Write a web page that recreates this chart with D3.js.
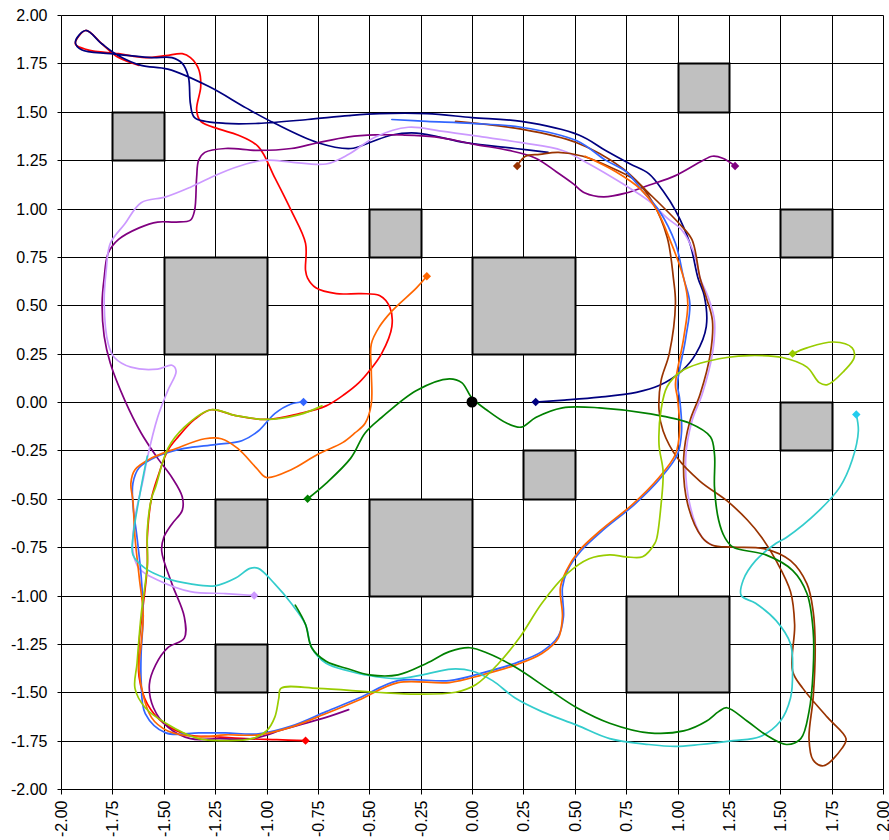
<!DOCTYPE html>
<html><head><meta charset="utf-8">
<script src="https://cdn.jsdelivr.net/npm/d3@7/dist/d3.min.js"></script>
<style>
body{margin:0;background:#fff;}
svg{display:block;}
text{font-family:"Liberation Sans",Arial,sans-serif;fill:#000;}
</style>
</head><body>
<svg id="c" width="889" height="840"></svg>
<script>
const tickValues = [-2,-1.75,-1.5,-1.25,-1,-0.75,-0.5,-0.25,0,0.25,0.5,0.75,1,1.25,1.5,1.75,2];
const tickLabels = ["-2.00","-1.75","-1.50","-1.25","-1.00","-0.75","-0.50","-0.25","0.00","0.25","0.50","0.75","1.00","1.25","1.50","1.75","2.00"];

// obstacles: [x0, y0, x1, y1]
const obstacles = [
  [-1.75,1.25,-1.5,1.5],[1.0,1.5,1.25,1.75],[-0.5,0.75,-0.25,1.0],[1.5,0.75,1.75,1.0],
  [-1.5,0.25,-1.0,0.75],[0,0.25,0.5,0.75],[1.5,-0.25,1.75,0],[0.25,-0.5,0.5,-0.25],
  [-1.25,-0.75,-1.0,-0.5],[-0.5,-1.0,0,-0.5],[0.75,-1.5,1.25,-1.0],[-1.25,-1.5,-1.0,-1.25]
];

const goal = [0, 0];

const navyPath = [[0.31,0.00],[0.45,0.01],[0.62,0.025],[0.80,0.05],[0.91,0.085],[1.02,0.16],[1.09,0.25],[1.14,0.39],[1.13,0.55],[1.10,0.64],[1.06,0.82],[0.99,0.99],[0.93,1.09],[0.86,1.18],[0.77,1.23],[0.65,1.30],[0.52,1.38],[0.24,1.45],[0.0,1.47],[-0.22,1.49],[-0.45,1.49],[-0.60,1.48],[-0.80,1.46],[-1.04,1.44],[-1.20,1.44],[-1.35,1.47],[-1.37,1.54],[-1.38,1.68],[-1.41,1.75],[-1.46,1.78],[-1.56,1.78],[-1.76,1.80],[-1.90,1.82],[-1.93,1.86],[-1.88,1.92],[-1.80,1.85],[-1.72,1.79],[-1.61,1.74],[-1.48,1.72],[-1.28,1.63],[-1.10,1.52],[-0.96,1.44],[-0.75,1.34],[-0.59,1.31],[-0.50,1.34],[-0.39,1.38],[-0.27,1.39],[-0.03,1.34],[0.21,1.31],[0.37,1.29]];

const redPath = [[-0.81,-1.75],[-0.95,-1.745],[-1.1,-1.74],[-1.25,-1.73],[-1.38,-1.72],[-1.50,-1.66],[-1.58,-1.56],[-1.62,-1.42],[-1.62,-1.25],[-1.60,-1.05],[-1.58,-0.85],[-1.58,-0.70],[-1.56,-0.50],[-1.53,-0.39],[-1.48,-0.25],[-1.43,-0.18],[-1.35,-0.09],[-1.27,-0.04],[-1.15,-0.07],[-1.0,-0.09],[-0.84,-0.06],[-0.71,-0.02],[-0.62,0.04],[-0.55,0.10],[-0.5,0.16],[-0.44,0.25],[-0.39,0.39],[-0.40,0.49],[-0.45,0.55],[-0.54,0.56],[-0.66,0.56],[-0.76,0.59],[-0.80,0.64],[-0.81,0.68],[-0.81,0.82],[-0.88,0.99],[-0.96,1.16],[-1.04,1.32],[-1.14,1.38],[-1.23,1.41],[-1.32,1.45],[-1.34,1.51],[-1.32,1.63],[-1.33,1.72],[-1.37,1.78],[-1.41,1.80],[-1.49,1.79],[-1.59,1.78],[-1.72,1.80],[-1.87,1.82],[-1.93,1.85],[-1.88,1.92],[-1.80,1.85],[-1.72,1.78],[-1.62,1.74]];

const purplePath = [[1.28,1.22],[1.22,1.26],[1.17,1.27],[1.11,1.24],[0.99,1.17],[0.86,1.12],[0.75,1.08],[0.64,1.06],[0.55,1.08],[0.49,1.13],[0.41,1.19],[0.31,1.26],[0.18,1.30],[0.02,1.33],[-0.18,1.37],[-0.34,1.38],[-0.47,1.38],[-0.6,1.37],[-0.75,1.34],[-0.88,1.31],[-1.04,1.30],[-1.20,1.31],[-1.30,1.29],[-1.33,1.25],[-1.34,1.16],[-1.35,0.99],[-1.37,0.94],[-1.44,0.93],[-1.53,0.93],[-1.62,0.90],[-1.72,0.84],[-1.77,0.77],[-1.79,0.64],[-1.80,0.51],[-1.79,0.34],[-1.76,0.20],[-1.69,0.01],[-1.61,-0.16],[-1.53,-0.29],[-1.46,-0.39],[-1.41,-0.49],[-1.41,-0.56],[-1.46,-0.63],[-1.50,-0.70],[-1.51,-0.77],[-1.46,-0.94],[-1.40,-1.11],[-1.40,-1.22],[-1.48,-1.27],[-1.54,-1.36],[-1.57,-1.46],[-1.55,-1.58],[-1.48,-1.68],[-1.37,-1.74],[-1.23,-1.74],[-1.07,-1.74],[-0.91,-1.69],[-0.71,-1.63],[-0.60,-1.59]];

const brownPath = [[0.22,1.22],[0.26,1.27],[0.33,1.28],[0.42,1.29],[0.54,1.27],[0.70,1.20],[0.80,1.14],[0.88,1.03],[0.95,0.85],[0.98,0.64],[0.99,0.51],[0.96,0.25],[0.92,0.11],[0.91,-0.04],[0.93,-0.15],[1.0,-0.29],[1.11,-0.41],[1.24,-0.51],[1.34,-0.61],[1.41,-0.70],[1.48,-0.82],[1.55,-0.98],[1.57,-1.15],[1.56,-1.39],[1.61,-1.48],[1.73,-1.63],[1.82,-1.74],[1.80,-1.79],[1.71,-1.88],[1.66,-1.85],[1.64,-1.74],[1.66,-1.53],[1.67,-1.27],[1.66,-1.08],[1.63,-0.94],[1.55,-0.82],[1.43,-0.76],[1.27,-0.75],[1.17,-0.74],[1.12,-0.70],[1.05,-0.53],[1.03,-0.29],[1.06,-0.10],[1.11,0.04],[1.16,0.25],[1.17,0.42],[1.14,0.54],[1.11,0.64],[1.07,0.84],[1.01,0.92],[0.86,1.08],[0.73,1.21],[0.51,1.34],[0.24,1.41],[-0.08,1.45]];

const orangePath = [[-0.22,0.65],[-0.27,0.59],[-0.39,0.47],[-0.45,0.39],[-0.49,0.30],[-0.49,0.16],[-0.49,-0.01],[-0.52,-0.11],[-0.57,-0.16],[-0.63,-0.21],[-0.75,-0.27],[-0.88,-0.35],[-1.0,-0.39],[-1.05,-0.34],[-1.14,-0.24],[-1.22,-0.19],[-1.30,-0.19],[-1.44,-0.24],[-1.56,-0.29],[-1.64,-0.35],[-1.66,-0.42],[-1.65,-0.51],[-1.64,-0.70],[-1.62,-0.90],[-1.60,-1.1],[-1.61,-1.25],[-1.62,-1.39],[-1.56,-1.63],[-1.48,-1.70],[-1.33,-1.73],[-1.20,-1.72],[-1.04,-1.72],[-0.88,-1.68],[-0.71,-1.61],[-0.55,-1.54],[-0.36,-1.45],[-0.11,-1.45],[0.05,-1.41],[0.21,-1.36],[0.34,-1.30],[0.42,-1.22],[0.44,-1.11],[0.43,-0.96],[0.46,-0.87],[0.52,-0.77],[0.63,-0.66],[0.78,-0.53],[0.91,-0.39],[0.99,-0.27],[1.01,-0.15],[1.0,0.02],[0.99,0.09],[1.03,0.33],[1.05,0.51],[1.03,0.64],[0.97,0.82],[0.90,0.99],[0.82,1.10],[0.70,1.19],[0.55,1.27]];

const bluePath = [[-0.82,0.0],[-0.88,-0.01],[-0.96,-0.06],[-1.04,-0.15],[-1.12,-0.20],[-1.25,-0.22],[-1.40,-0.24],[-1.53,-0.28],[-1.62,-0.34],[-1.65,-0.42],[-1.65,-0.53],[-1.63,-0.70],[-1.61,-0.90],[-1.60,-1.1],[-1.61,-1.3],[-1.61,-1.44],[-1.59,-1.61],[-1.49,-1.71],[-1.33,-1.71],[-1.20,-1.71],[-1.04,-1.715],[-0.88,-1.675],[-0.71,-1.60],[-0.55,-1.53],[-0.36,-1.44],[-0.11,-1.44],[0.05,-1.40],[0.21,-1.35],[0.34,-1.29],[0.42,-1.21],[0.445,-1.11],[0.44,-0.96],[0.465,-0.87],[0.53,-0.77],[0.64,-0.66],[0.79,-0.53],[0.92,-0.39],[1.0,-0.27],[1.02,-0.15],[1.01,0.02],[1.0,0.09],[1.04,0.33],[1.06,0.51],[1.03,0.64],[0.99,0.82],[0.91,0.99],[0.83,1.09],[0.75,1.19],[0.65,1.25],[0.51,1.35],[0.24,1.42],[0.0,1.44],[-0.22,1.45],[-0.39,1.46]];

const greenPath = [[-0.80,-0.50],[-0.71,-0.42],[-0.59,-0.29],[-0.52,-0.16],[-0.44,-0.08],[-0.27,0.06],[-0.11,0.12],[-0.05,0.10],[0.0,0.02],[0.07,-0.04],[0.17,-0.11],[0.24,-0.13],[0.31,-0.08],[0.44,-0.03],[0.62,-0.03],[0.86,-0.06],[1.06,-0.11],[1.16,-0.18],[1.18,-0.27],[1.18,-0.44],[1.20,-0.61],[1.23,-0.70],[1.27,-0.75],[1.43,-0.79],[1.56,-0.87],[1.63,-0.99],[1.66,-1.18],[1.66,-1.39],[1.64,-1.60],[1.60,-1.74],[1.53,-1.77],[1.43,-1.72],[1.34,-1.65],[1.24,-1.58],[1.20,-1.60],[1.14,-1.65],[1.03,-1.70],[0.86,-1.71],[0.67,-1.66],[0.51,-1.58],[0.38,-1.49],[0.21,-1.37],[0.08,-1.30],[-0.01,-1.27],[-0.11,-1.29],[-0.22,-1.35],[-0.36,-1.41],[-0.5,-1.41],[-0.6,-1.38],[-0.71,-1.34],[-0.78,-1.27],[-0.81,-1.15],[-0.86,-1.05]];

const lilacPath = [[-1.06,-1.0],[-1.20,-0.99],[-1.37,-0.98],[-1.53,-0.92],[-1.62,-0.86],[-1.65,-0.77],[-1.64,-0.60],[-1.60,-0.40],[-1.58,-0.29],[-1.53,-0.08],[-1.48,0.06],[-1.44,0.16],[-1.46,0.19],[-1.53,0.17],[-1.66,0.18],[-1.74,0.23],[-1.77,0.30],[-1.79,0.51],[-1.78,0.68],[-1.76,0.82],[-1.69,0.92],[-1.61,1.03],[-1.49,1.06],[-1.37,1.11],[-1.23,1.18],[-1.10,1.23],[-1.0,1.25],[-0.88,1.24],[-0.71,1.23],[-0.60,1.28],[-0.47,1.37],[-0.31,1.42],[-0.15,1.40],[0.05,1.37],[0.24,1.34],[0.44,1.30],[0.57,1.23],[0.73,1.13],[0.86,1.04],[0.95,0.95],[1.02,0.89],[1.08,0.77],[1.11,0.64],[1.15,0.54],[1.18,0.42],[1.17,0.25],[1.12,0.04],[1.07,-0.10],[1.04,-0.29],[1.06,-0.53],[1.12,-0.70],[1.17,-0.74]];

const yellowGreenPath = [[1.56,0.25],[1.63,0.28],[1.76,0.31],[1.85,0.28],[1.86,0.23],[1.81,0.16],[1.73,0.09],[1.69,0.10],[1.63,0.18],[1.51,0.23],[1.35,0.24],[1.24,0.23],[1.11,0.20],[1.02,0.16],[0.95,0.08],[0.92,-0.04],[0.91,-0.22],[0.93,-0.36],[0.92,-0.53],[0.90,-0.70],[0.89,-0.73],[0.83,-0.80],[0.75,-0.80],[0.67,-0.79],[0.57,-0.81],[0.46,-0.89],[0.34,-1.04],[0.23,-1.22],[0.13,-1.35],[0.02,-1.46],[-0.08,-1.50],[-0.27,-1.51],[-0.47,-1.50],[-0.75,-1.48],[-0.93,-1.48],[-0.94,-1.53],[-0.96,-1.63],[-1.0,-1.70],[-1.07,-1.74],[-1.2,-1.75],[-1.33,-1.74],[-1.49,-1.66],[-1.59,-1.58],[-1.64,-1.48],[-1.63,-1.35],[-1.61,-1.10],[-1.58,-0.84],[-1.58,-0.66],[-1.56,-0.50],[-1.54,-0.44],[-1.48,-0.24],[-1.40,-0.13],[-1.27,-0.04],[-1.15,-0.07],[-1.0,-0.09],[-0.84,-0.065],[-0.73,-0.02]];

const cyanPath = [[1.87,-0.065],[1.88,-0.15],[1.85,-0.30],[1.79,-0.44],[1.69,-0.56],[1.53,-0.70],[1.48,-0.73],[1.38,-0.82],[1.32,-0.92],[1.31,-1.0],[1.38,-1.04],[1.48,-1.13],[1.55,-1.25],[1.56,-1.39],[1.55,-1.53],[1.50,-1.65],[1.40,-1.73],[1.27,-1.75],[1.11,-1.77],[0.99,-1.78],[0.86,-1.77],[0.67,-1.74],[0.51,-1.67],[0.34,-1.60],[0.21,-1.53],[0.10,-1.44],[0.0,-1.39],[-0.10,-1.38],[-0.24,-1.41],[-0.36,-1.43],[-0.52,-1.41],[-0.60,-1.39],[-0.71,-1.35],[-0.78,-1.27],[-0.81,-1.15],[-0.88,-1.04],[-0.96,-0.94],[-1.04,-0.86],[-1.08,-0.86],[-1.15,-0.91],[-1.25,-0.95],[-1.37,-0.94],[-1.49,-0.91],[-1.59,-0.86],[-1.65,-0.79],[-1.65,-0.70],[-1.61,-0.44],[-1.58,-0.28]];

const series = [
  {points: redPath, color: "#FF0000", marker: "#FF0000"},
  {points: navyPath, color: "#000080", marker: "#000080"},
  {points: purplePath, color: "#800080", marker: "#800080"},
  {points: lilacPath, color: "#CC99FF", marker: "#CC99FF"},
  {points: brownPath, color: "#993300", marker: "#993300"},
  {points: bluePath, color: "#3366FF", marker: "#3366FF"},
  {points: orangePath, color: "#FF6600", marker: "#FF6600"},
  {points: cyanPath, color: "#33CCCC", marker: "#22CCEE"},
  {points: greenPath, color: "#008000", marker: "#008000"},
  {points: yellowGreenPath, color: "#99CC00", marker: "#99CC00"}
];

const svg = d3.select("#c");
const x = d3.scaleLinear().domain([-2, 2]).range([61, 883]);
const y = d3.scaleLinear().domain([-2, 2]).range([789, 15]);
const cx = v => Math.round(x(v)) + 0.5;
const cy = v => Math.round(y(v)) + 0.5;

// grid
const grid = svg.append("g");
grid.selectAll("line.v").data(tickValues).join("line")
  .attr("class","v")
  .attr("x1", d => cx(d)).attr("x2", d => cx(d))
  .attr("y1", cy(2)).attr("y2", cy(-2))
  .attr("stroke", "#000").attr("stroke-width", 1);
grid.selectAll("line.h").data(tickValues).join("line")
  .attr("class","h")
  .attr("y1", d => cy(d)).attr("y2", d => cy(d))
  .attr("x1", cx(-2)).attr("x2", cx(2))
  .attr("stroke", "#000").attr("stroke-width", 1);

// axes
const fmt = d => tickLabels[tickValues.indexOf(d)];
const yAxis = svg.append("g").attr("transform", `translate(${cx(-2)},0)`)
  .call(d3.axisLeft(y).tickValues(tickValues).tickFormat(fmt).tickSize(4).tickPadding(10));
yAxis.select(".domain").remove();
yAxis.selectAll(".tick").attr("transform", d => `translate(0,${cy(d)})`);
yAxis.selectAll("text").style("font-size","16px").attr("font-family",null).attr("dy","0.36em");
yAxis.selectAll(".tick line").attr("stroke","#000");

const xAxis = svg.append("g").attr("transform", `translate(0,${cy(-2)})`)
  .call(d3.axisBottom(x).tickValues(tickValues).tickFormat(fmt).tickSize(5).tickPadding(0));
xAxis.select(".domain").remove();
xAxis.selectAll(".tick").attr("transform", d => `translate(${cx(d)},0)`);
xAxis.selectAll("text")
  .attr("x", 0).attr("y", 0).attr("dy", "0.36em")
  .attr("transform", "translate(0,11) rotate(-90)")
  .attr("text-anchor", "end")
  .style("font-size","16px").attr("font-family",null);

// obstacles
svg.append("g").selectAll("rect").data(obstacles).join("rect")
  .attr("x", d => cx(d[0])).attr("y", d => cy(d[3]))
  .attr("width", d => cx(d[2]) - cx(d[0])).attr("height", d => cy(d[1]) - cy(d[3]))
  .attr("fill", "#C0C0C0").attr("stroke", "#000").attr("stroke-width", 2);

// trajectories
const line = d3.line().x(d => x(d[0])).y(d => y(d[1])).curve(d3.curveCatmullRom.alpha(0.5));
svg.append("g").selectAll("path").data(series).join("path")
  .attr("d", d => line(d.points))
  .attr("fill", "none").attr("stroke", d => d.color).attr("stroke-width", 1.7)
  .attr("stroke-linejoin","round").attr("stroke-linecap","round");

// start markers (diamonds)
svg.append("g").selectAll("path").data(series).join("path")
  .attr("transform", d => `translate(${x(d.points[0][0])},${y(d.points[0][1])}) rotate(45)`)
  .attr("d", d3.symbol().type(d3.symbolSquare).size(36))
  .attr("fill", d => d.marker);

// goal
svg.append("circle").attr("cx", x(goal[0])).attr("cy", y(goal[1])).attr("r", 5.5).attr("fill", "#000");
</script>
</body></html>
